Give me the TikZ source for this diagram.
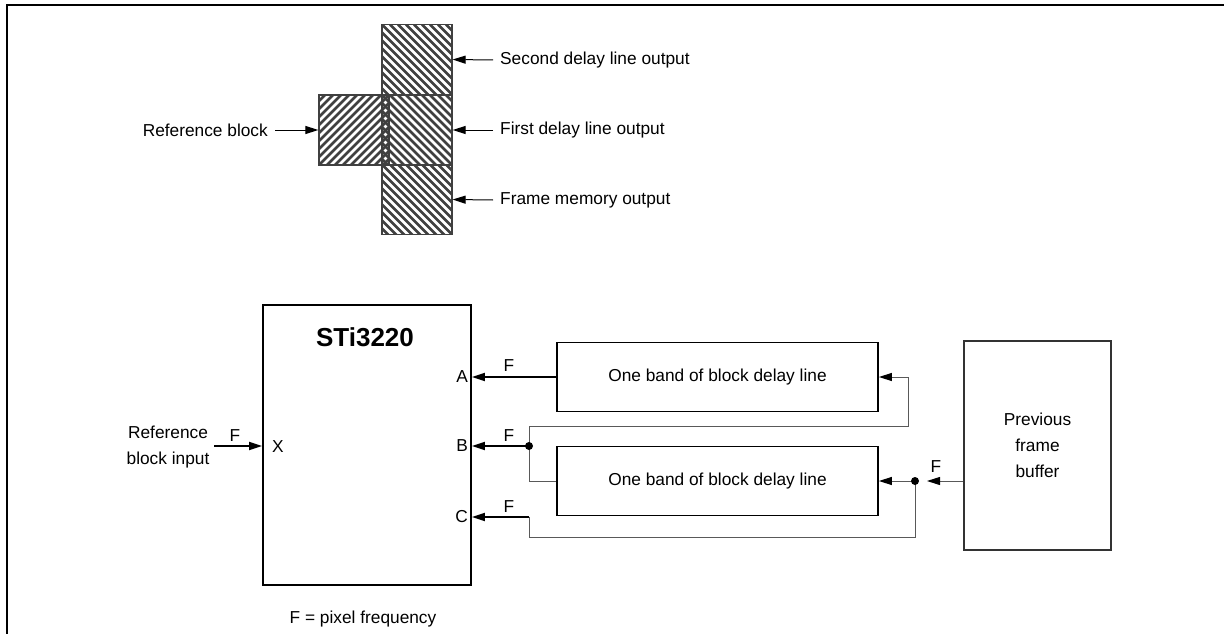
\documentclass[tikz,border=0pt]{standalone}
\usepackage{fontspec}
\setmainfont{Liberation Sans}
\usetikzlibrary{arrows.meta,calc}
\begin{document}
\begin{tikzpicture}[x=1pt,y=-1pt,
  font=\fontsize{17.3}{26}\selectfont,
  arr/.style={-{Triangle[length=13pt,width=8pt,color=black]}},
  hatchNW/.style={path picture={\foreach \k in {-80,-72,...,80}{\draw[line width=2.7pt] ([xshift=\k pt]path picture bounding box.north west) -- ++(80,80);}}},
  hatchNE/.style={path picture={\foreach \k in {-80,-72,...,80}{\draw[line width=2.7pt] ([xshift=\k pt]path picture bounding box.south west) -- ++(80,-80);}}},
  hblock/.style={draw=black!75, line width=1.3pt, minimum width=70pt, minimum height=70pt, inner sep=0pt},
  box/.style={draw, line width=1.8pt, inner sep=0pt, align=center},
  thickline/.style={line width=1.8pt},
  thinline/.style={draw=black!65, line width=1pt},
  lab/.style={inner sep=0pt}
]
\useasboundingbox (0,0) rectangle (1224,634);
% frame
\draw[line width=2.4pt] (7,634) -- (7,5) -- (1224,5);

% hatched blocks
\node[hblock,hatchNW] (t2) at (417,59.5) {};
\node[hblock,hatchNW] (t1) at (417,130) {};
\node[hblock,hatchNW] (t0) at (417,199.5) {};
\node[hblock,hatchNE] (ref) at (354,130) {};

\node[lab,anchor=west] (l2) at (500,60) {Second delay line output};
\node[lab,anchor=west] (l1) at (500,130) {First delay line output};
\node[lab,anchor=west] (l0) at (500,200) {Frame memory output};
\node[lab,anchor=east] (lr) at (268,130) {Reference block};
\draw[arr,line width=1pt] ([xshift=-7pt]l2.west) -- (t2.east);
\draw[arr,line width=1pt] ([xshift=-7pt]l1.west) -- (t1.east);
\draw[arr,line width=1pt] ([xshift=-7pt]l0.west) -- (t0.east);
\draw[arr,line width=1pt] ([xshift=7pt]lr.east) -- (ref.west);

% chip
\node[box, minimum width=208pt, minimum height=280pt] (chip) at (367,445) {};
\node[lab,font=\fontsize{26}{30}\selectfont\bfseries] (title) at (365,337) {STi3220};
\node[lab,anchor=east] (pa) at (468,377) {A};
\node[lab,anchor=east] (pb) at (468,446) {B};
\node[lab,anchor=east] (pc) at (468,517) {C};
\node[lab,anchor=west] (px) at (272,447) {X};

\node[lab,align=center] (refin) at (168,447) {Reference\\block input};
\coordinate (xin) at (214,446);
\draw[arr,thickline] (xin) -- (chip.west |- xin);
\node[lab] (fx) at (235,436) {F};

% delay lines
\node[box, minimum width=321pt, minimum height=69pt] (d1) at (717.5,377) {One band of block delay line};
\node[box, minimum width=321pt, minimum height=69pt] (d2) at (717.5,481) {One band of block delay line};
\node[box, draw=black!80, minimum width=147pt, minimum height=209pt] (fb) at (1037.5,445.5) {Previous\\frame\\buffer};

% A
\draw[arr,thickline] (d1.west) -- (chip.east |- d1.west);
\node[lab] (fa) at (509,366) {F};
% B
\coordinate (jB) at (529,446);
\coordinate (loop1) at (908,426);
\draw[arr,thickline] (jB) -- (chip.east |- jB);
\draw[thinline] (d2.west) -| (jB);
\draw[thinline,arr] (jB) |- (loop1) |- (d1.east);
\fill (jB) circle (4pt);
\node[lab] (fb1) at (509,436) {F};
% C
\coordinate (jC) at (915,481);
\coordinate (cC) at (529,537);
\coordinate (kC) at (529,517);
\draw[thinline] (jC) |- (cC) -- (kC);
\draw[arr,thickline] (kC) -- (chip.east |- kC);
\node[lab] (fc) at (509,507) {F};
\draw[thinline,arr,shorten >=12pt] (fb.west |- jC) -- (jC);
\draw[thinline,arr] (jC) -- (d2.east);
\fill (jC) circle (4pt);
\node[lab] (ff) at (936,467) {F};

\node[lab] (note) at (363,619) {F = pixel frequency};
\end{tikzpicture}
\end{document}
